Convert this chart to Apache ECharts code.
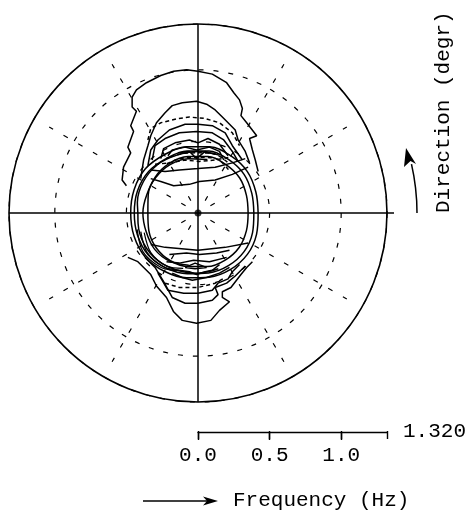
<!DOCTYPE html>
<html>
<head>
<meta charset="utf-8">
<script src="https://cdn.jsdelivr.net/npm/echarts@6/dist/echarts.min.js"></script>
<style>
  html, body { margin: 0; padding: 0; background: #fff; }
  #chart { width: 469px; height: 518px; }
</style>
</head>
<body>
<div id="chart"></div>
<script>
// Frequency range of the polar plot (Hz) and scale-bar ticks
const FMAX = 1.32;
const freqTicks = [0, 0.5, 1.0];
const gridCircleStep = 0.5;
// Dashed direction spokes (deg) and their frequency extent (Hz)
const spokeAngles = [30, 60, 120, 150, 210, 240, 300, 330];
const spokeRange = [0.1, 1.2];

// Contours of the northern and southern lobes, [east, north] components in Hz
const topLobe1 = [[-0.50,0.19],[-0.53,0.23],[-0.52,0.32],[-0.47,0.42],[-0.49,0.46],[-0.45,0.57],[-0.47,0.61],[-0.43,0.71],[-0.46,0.74],[-0.46,0.81],[-0.43,0.86],[-0.36,0.91],[-0.26,0.96],[-0.17,0.99],[-0.08,1.00],[0.00,0.99],[0.10,0.97],[0.20,0.91],[0.25,0.84],[0.29,0.79],[0.31,0.73],[0.30,0.68],[0.34,0.63],[0.41,0.54],[0.36,0.52],[0.38,0.44],[0.40,0.37],[0.42,0.29]];
const topLobe2 = [[-0.40,0.24],[-0.38,0.37],[-0.35,0.47],[-0.33,0.54],[-0.29,0.63],[-0.23,0.70],[-0.18,0.75],[-0.11,0.77],[-0.01,0.78],[0.06,0.76],[0.12,0.72],[0.17,0.67],[0.21,0.63],[0.26,0.58],[0.28,0.51],[0.33,0.43],[0.36,0.35]];
const topLobe3 = [[-0.35,0.51],[-0.33,0.59],[-0.26,0.63],[-0.14,0.66],[-0.06,0.67],[0.05,0.66],[0.15,0.63],[0.24,0.56],[0.29,0.47]];
const topLobe4 = [[-0.32,0.37],[-0.30,0.47],[-0.23,0.52],[-0.13,0.56],[-0.01,0.57],[0.10,0.56],[0.18,0.51],[0.24,0.43],[0.28,0.36]];
const topLobe5 = [[-0.26,0.38],[-0.24,0.45],[-0.16,0.49],[-0.06,0.51],[0.00,0.49],[0.07,0.52],[0.15,0.48],[0.21,0.40]];
const topLobe6 = [[-0.21,0.40],[-0.18,0.44],[-0.09,0.46],[-0.01,0.44],[0.08,0.46],[0.15,0.43],[0.18,0.37]];
const topLobe7 = [[-0.14,0.42],[-0.06,0.43],[-0.01,0.38],[0.05,0.43],[0.12,0.41]];
const topLobe8 = [[-0.35,0.33],[-0.33,0.44],[-0.28,0.51],[-0.20,0.58],[-0.09,0.62],[0.00,0.62],[0.10,0.61],[0.19,0.56],[0.24,0.47],[0.31,0.37]];
const topEdge1 = [[-0.33,0.24],[-0.26,0.22],[-0.17,0.19],[-0.06,0.20],[0.01,0.22],[0.12,0.23],[0.24,0.27],[0.35,0.32]];
const topEdge2 = [[-0.33,0.30],[-0.23,0.29],[-0.13,0.30],[0.00,0.31],[0.12,0.32],[0.24,0.35],[0.33,0.38]];
const topEdge3 = [[-0.30,0.34],[-0.20,0.35],[-0.09,0.37],[0.01,0.36],[0.12,0.37],[0.22,0.39]];

const bottomLobe1 = [[-0.49,-0.31],[-0.42,-0.34],[-0.33,-0.43],[-0.29,-0.51],[-0.22,-0.59],[-0.17,-0.69],[-0.11,-0.75],[-0.01,-0.77],[0.09,-0.75],[0.15,-0.68],[0.22,-0.62],[0.17,-0.59],[0.17,-0.55],[0.23,-0.52],[0.30,-0.43],[0.34,-0.38],[0.38,-0.34]];
const bottomLobe8 = [[-0.37,-0.31],[-0.30,-0.38],[-0.24,-0.48],[-0.18,-0.59],[-0.09,-0.63],[0.00,-0.63],[0.10,-0.61],[0.14,-0.57],[0.12,-0.52],[0.20,-0.49],[0.26,-0.44],[0.33,-0.37]];
const bottomLobe2 = [[-0.28,-0.42],[-0.25,-0.47],[-0.21,-0.54],[-0.10,-0.56],[0.00,-0.56],[0.10,-0.54],[0.14,-0.49],[0.21,-0.46],[0.24,-0.41],[0.29,-0.36]];
const bottomLobe3 = [[-0.18,-0.42],[-0.11,-0.45],[-0.04,-0.47],[0.06,-0.45],[0.15,-0.42],[0.22,-0.38]];
const bottomLobe4 = [[-0.13,-0.40],[-0.06,-0.41],[-0.01,-0.43],[0.05,-0.41],[0.10,-0.40],[0.15,-0.36]];
const bottomLobe5 = [[-0.09,-0.38],[-0.02,-0.35],[0.06,-0.38],[-0.02,-0.39],[-0.09,-0.38]];
const bottomLobe6 = [[-0.20,-0.29],[-0.08,-0.28],[0.01,-0.29],[0.13,-0.28],[0.22,-0.26]];
const bottomLobe7 = [[-0.22,-0.34],[-0.13,-0.35],[-0.03,-0.33],[0.08,-0.34],[0.20,-0.31]];
const bottomEdge1 = [[-0.33,-0.22],[-0.23,-0.24],[0.00,-0.26],[0.19,-0.24],[0.35,-0.21]];
const bottomDash = [[-0.23,-0.49],[-0.13,-0.52],[0.00,-0.52],[0.12,-0.49],[0.19,-0.45]];

// Ring-shaped contours around the peak frequency, [direction deg, frequency Hz]
const ring1 = [[0,.42],[20,.43],[40,.45],[60,.46],[80,.47],[100,.47],[120,.47],[140,.48],[160,.475],[180,.47],[200,.475],[220,.48],[240,.47],[260,.46],[280,.455],[300,.455],[320,.45],[340,.435],[360,.42]];
const ring2 = [[0,.39],[20,.40],[40,.42],[60,.43],[80,.44],[100,.44],[120,.44],[140,.45],[160,.45],[180,.445],[200,.45],[220,.455],[240,.445],[260,.43],[280,.425],[300,.425],[320,.42],[340,.405],[360,.39]];
const ring3 = [[0,.35],[20,.36],[40,.38],[60,.39],[80,.40],[100,.40],[120,.40],[140,.39],[160,.37],[180,.35],[200,.365],[220,.38],[240,.385],[260,.38],[280,.38],[300,.38],[320,.375],[340,.36],[360,.35]];
const ring4 = [[70,.43],[90,.43],[110,.43],[130,.44],[150,.44],[170,.43],[180,.42],[190,.425],[210,.435],[230,.435],[250,.425],[270,.42],[290,.415]];
const ring5 = [[80,.38],[100,.385],[120,.39],[140,.385],[160,.38],[180,.385],[200,.385],[220,.395],[240,.39],[260,.37]];
const ringHatch1 = [[195,.44],[215,.47],[235,.46],[250,.43]];
const ringHatch2 = [[198,.42],[218,.45],[238,.445],[252,.42]];
const ringHatch3 = [[200,.40],[220,.43],[240,.43],[255,.40]];
const ringDash1 = [[55,.37],[70,.40],[90,.39],[110,.40],[125,.41]];
const ringDash2 = [[60,.41],[75,.43],[90,.42],[105,.43],[120,.44]];

// ---- conversion helpers ----
function fromEastNorth(list) {
  return list.map(function (p) {
    const r = Math.hypot(p[0], p[1]);
    let a = Math.atan2(p[1], p[0]) * 180 / Math.PI;
    if (a < 0) a += 360;
    return [r, a];
  });
}
function fromDirFreq(list) {
  return list.map(function (p) { return [p[1], p[0]]; });
}

const INK = '#000';
const FONT = '"Liberation Mono", "DejaVu Sans Mono", monospace';
const FONT_SIZE = 21;

function lineSeries(data, opts) {
  opts = opts || {};
  return {
    type: 'line',
    coordinateSystem: 'polar',
    polarIndex: 0,
    data: data,
    symbol: 'none',
    silent: true,
    clip: false,
    smooth: opts.smooth || false,
    animation: false,
    z: opts.z || 3,
    lineStyle: {
      color: INK,
      width: opts.width || 1.5,
      type: opts.dash || 'solid'
    }
  };
}

const series = [];

// direction spokes
spokeAngles.forEach(function (a) {
  series.push(lineSeries([[spokeRange[0], a], [spokeRange[1], a]], { dash: [5, 12], width: 1.2, z: 2 }));
});

// north-south and east-west cross lines
series.push(lineSeries([[FMAX, 180], [0, 0], [FMAX, 0]], { width: 1.5, z: 2 }));
series.push(lineSeries([[FMAX, 90], [0, 0], [FMAX, 270]], { width: 1.5, z: 2 }));

// lobe contours
[topLobe1, topLobe2, topLobe4, topLobe5, topLobe6, topLobe7, topLobe8, topEdge1, topEdge2,
 bottomLobe1, bottomLobe8, bottomLobe2, bottomLobe3, bottomLobe4, bottomLobe5, bottomLobe6, bottomLobe7, bottomEdge1]
  .forEach(function (c) { series.push(lineSeries(fromEastNorth(c))); });
[topLobe3, topEdge3, bottomDash]
  .forEach(function (c) { series.push(lineSeries(fromEastNorth(c), { dash: [4, 3] })); });

// ring contours
[ring1, ring2, ring3, ring4, ring5].forEach(function (c) {
  series.push(lineSeries(fromDirFreq(c), { smooth: 0.35 }));
});
[ringHatch1, ringHatch2, ringHatch3].forEach(function (c) {
  series.push(lineSeries(fromDirFreq(c), { smooth: 0.3, width: 1.2 }));
});
[ringDash1, ringDash2].forEach(function (c) {
  series.push(lineSeries(fromDirFreq(c), { smooth: 0.3, dash: [4, 3] }));
});

// origin marker
series.push({
  type: 'scatter',
  coordinateSystem: 'polar',
  polarIndex: 0,
  data: [[0, 0]],
  symbol: 'circle',
  symbolSize: 7,
  itemStyle: { color: INK },
  silent: true,
  animation: false,
  z: 5
});

const chart = echarts.init(document.getElementById('chart'), null, { renderer: 'canvas' });

chart.setOption({
  backgroundColor: '#fff',
  animation: false,
  polar: { center: [198, 213], radius: 189 },
  angleAxis: {
    type: 'value', min: 0, max: 360, startAngle: 0, clockwise: false,
    axisLine: { show: true, lineStyle: { color: INK, width: 1.6 } },
    axisTick: { show: false }, axisLabel: { show: false }, splitLine: { show: false }
  },
  radiusAxis: {
    type: 'value', min: 0, max: FMAX, interval: gridCircleStep,
    axisLine: { show: false }, axisTick: { show: false }, axisLabel: { show: false },
    splitLine: { show: true, lineStyle: { color: INK, width: 1.2, type: [5, 10] } }
  },
  grid: { left: 198, top: 431, width: 189, height: 1 },
  xAxis: [
    {
      type: 'value', gridIndex: 0, min: 0, max: FMAX, position: 'bottom',
      axisLine: { show: true, lineStyle: { color: INK, width: 1.4 } },
      axisTick: { show: true, inside: false, length: 8, customValues: freqTicks, lineStyle: { color: INK, width: 1.4 } },
      axisLabel: {
        show: true, customValues: freqTicks, margin: 13,
        formatter: function (v) { return v.toFixed(1); },
        fontFamily: FONT, fontSize: FONT_SIZE, color: INK
      },
      splitLine: { show: false }
    },
    {
      type: 'value', gridIndex: 0, min: 0, max: FMAX, position: 'top',
      axisLine: { show: false },
      axisTick: { show: true, inside: true, length: 8, customValues: freqTicks.concat([FMAX]), lineStyle: { color: INK, width: 1.4 } },
      axisLabel: { show: false },
      splitLine: { show: false },
      name: FMAX.toFixed(3), nameLocation: 'end', nameGap: 16,
      nameTextStyle: { fontFamily: FONT, fontSize: FONT_SIZE, color: INK, padding: [0, 0, 10, 0] }
    }
  ],
  yAxis: { type: 'value', gridIndex: 0, show: false },
  graphic: [
    // east-west line runs slightly past the outer circle toward the direction arrow
    { type: 'line', shape: { x1: 386, y1: 213, x2: 394, y2: 213 }, style: { stroke: INK, lineWidth: 1.5 } },
    { type: 'line', shape: { x1: 143, y1: 501, x2: 208, y2: 501 }, style: { stroke: INK, lineWidth: 1.5 } },
    { type: 'polygon', shape: { points: [[218, 501], [203, 496.5], [207, 501], [203, 505.5]] }, style: { fill: INK } },
    { type: 'text', x: 233, y: 500, style: { text: 'Frequency (Hz)', font: FONT_SIZE + 'px ' + FONT, fill: INK, align: 'left', verticalAlign: 'middle' } },
    { type: 'arc', shape: { cx: 198, cy: 213, r: 219, startAngle: -0.225, endAngle: 0, clockwise: true }, style: { stroke: INK, fill: null, lineWidth: 1.5 } },
    { type: 'polygon', shape: { points: [[406, 148], [416, 164], [410.5, 161], [404, 167]] }, style: { fill: INK } },
    { type: 'text', x: 443, y: 213, rotation: Math.PI / 2, style: { text: 'Direction (degr)', font: FONT_SIZE + 'px ' + FONT, fill: INK, align: 'left', verticalAlign: 'middle' } }
  ],
  series: series
});
</script>
</body>
</html>
